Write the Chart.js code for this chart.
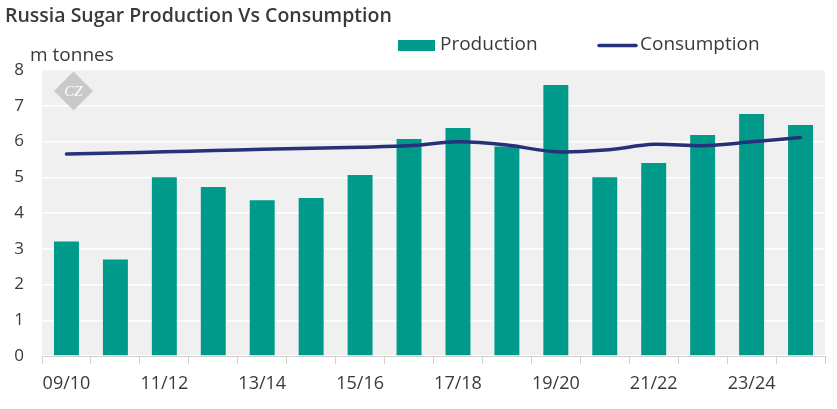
<!DOCTYPE html>
<html><head><meta charset="utf-8">
<script src="https://cdn.jsdelivr.net/npm/chart.js@4/dist/chart.umd.min.js"></script>
<style>html,body{margin:0;padding:0;background:#fff}#w{width:837px;height:409px}</style>
</head><body><div id="w"><canvas id="c" width="837" height="409"></canvas></div>
<script>
const categories = ["09/10","10/11","11/12","12/13","13/14","14/15","15/16","16/17","17/18","18/19","19/20","20/21","21/22","22/23","23/24","24/25"];
const production = [3.2,2.7,5.0,4.73,4.36,4.42,5.06,6.07,6.38,5.86,7.58,5.0,5.4,6.18,6.77,6.46];
const consumption = [5.65,5.68,5.71,5.75,5.78,5.81,5.84,5.88,5.99,5.9,5.71,5.76,5.92,5.88,5.99,6.11];
const yTicks = [0,1,2,3,4,5,6,7,8];
const titleText = "Russia Sugar Production Vs Consumption";
const unitText = "m tonnes";

const FONT = "'Open Sans', sans-serif";
const bgPlugin = {
  id: 'bg',
  beforeDraw(chart) {
    const {ctx, chartArea: a} = chart;
    ctx.save();
    ctx.fillStyle = '#f0f0f0';
    ctx.fillRect(a.left, a.top, a.right - a.left, a.bottom - a.top);
    ctx.restore();
  },
  beforeDatasetsDraw(chart) {
    const ctx = chart.ctx;
    ctx.save();
    ctx.translate(73.5, 91);
    ctx.rotate(Math.PI / 4);
    ctx.fillStyle = '#c9c9c9';
    ctx.fillRect(-13.8, -13.8, 27.6, 27.6);
    ctx.restore();
    ctx.save();
    ctx.fillStyle = '#ffffff';
    ctx.font = "italic 15px 'Liberation Serif', serif";
    ctx.textAlign = 'center';
    ctx.textBaseline = 'middle';
    ctx.fillText('CZ', 73.5, 92);
    ctx.restore();
  },
  afterDraw(chart) {
    const ctx = chart.ctx;
    const bar = chart.data.datasets.find(d => d.type === 'bar');
    const line = chart.data.datasets.find(d => d.type === 'line');
    ctx.save();
    ctx.fillStyle = '#3a3a3a';
    ctx.font = "600 19.5px " + FONT;
    ctx.textBaseline = 'middle';
    ctx.fillText(titleText, 5, 16);
    ctx.font = "19px " + FONT;
    ctx.fillText(unitText, 30, 56);
    // legend
    ctx.fillStyle = bar.backgroundColor;
    ctx.fillRect(398, 40, 37, 11);
    ctx.fillStyle = '#3a3a3a';
    ctx.fillText(bar.label, 440, 45);
    ctx.strokeStyle = line.borderColor;
    ctx.lineWidth = 3.5;
    ctx.lineCap = 'round';
    ctx.beginPath(); ctx.moveTo(599, 45.5); ctx.lineTo(636, 45.5); ctx.stroke();
    ctx.fillText(line.label, 640, 45);
    ctx.restore();
  }
};

new Chart(document.getElementById('c'), {
  data: {
    labels: categories,
    datasets: [
      {type: 'line', label: 'Consumption', data: consumption, borderColor: '#27317a', backgroundColor: '#27317a',
       borderWidth: 3.5, pointRadius: 0, tension: 0.3, order: 0, borderCapStyle: 'round'},
      {type: 'bar', label: 'Production', data: production, backgroundColor: '#009a8a',
       categoryPercentage: 1, barPercentage: 0.51, order: 1}
    ]
  },
  options: {
    responsive: false, animation: false, devicePixelRatio: 1,
    layout: {padding: {top: 70, right: 12, left: 0, bottom: 0}},
    plugins: {legend: {display: false}, title: {display: false}, tooltip: {enabled: false}},
    scales: {
      x: {
        offset: true,
        grid: {offset: true, drawOnChartArea: false, drawTicks: true, tickLength: 8, color: '#d0d0d0'},
        border: {display: true, color: '#d0d0d0'},
        ticks: {autoSkip: false, maxRotation: 0, padding: 9, color: '#3a3a3a', font: {family: FONT, size: 18},
          callback: (v, i) => i % 2 === 0 ? categories[i] : ''},
        afterFit: s => { s.height = 53; }
      },
      y: {
        min: 0, max: 8,
        afterBuildTicks: s => { s.ticks = yTicks.map(v => ({value: v})); },
        grid: {color: '#ffffff', lineWidth: 1.5, drawTicks: false},
        border: {display: false},
        ticks: {padding: 18, color: '#3a3a3a', font: {family: FONT, size: 17}},
        afterFit: s => { s.width = 42; }
      }
    }
  },
  plugins: [bgPlugin]
});
</script></body></html>
